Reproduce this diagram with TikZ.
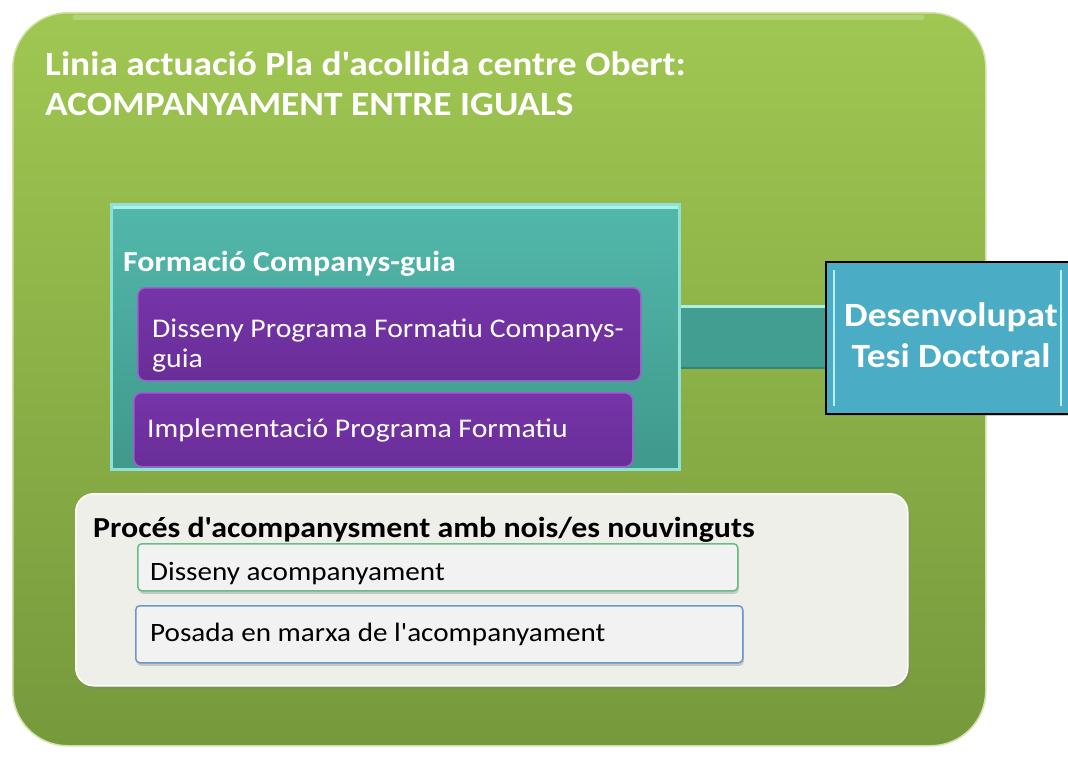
\documentclass[tikz,border=0pt]{standalone}
\usepackage{fontspec}
\setmainfont{Carlito}[Ligatures=TeXOff, FakeStretch=1.1]
\usetikzlibrary{shadows,calc}
\definecolor{gtop}{HTML}{A0C752}
\definecolor{gbot}{HTML}{76993C}
\definecolor{ttop}{HTML}{52B8AB}
\definecolor{tbot}{HTML}{3F998C}
\definecolor{thl}{HTML}{A8F2EA}
\definecolor{ptop}{HTML}{7634A8}
\definecolor{pbot}{HTML}{692E98}
\definecolor{phl}{HTML}{B070E0}
\definecolor{dcol}{HTML}{4BACC6}
\definecolor{dhl}{HTML}{B8F2F8}
\definecolor{pcol}{HTML}{EEEFE9}
\definecolor{bgreen}{HTML}{66BE86}
\definecolor{bblue}{HTML}{6A98C8}
\tikzset{
  outerbox/.style={rounded corners=55, top color=gtop, bottom color=gbot, draw=gtop!50!white, line width=1.5, inner sep=0},
  tealbox/.style={top color=ttop, bottom color=tbot, draw=thl!70!ttop, line width=2.5, inner sep=0},
  purplebox/.style={rounded corners=8, top color=ptop, bottom color=pbot, draw=phl!70!ptop, line width=1.5, inner sep=0},
  desbox/.style={fill=dcol, draw=black, line width=2.2, inner sep=0, drop shadow={opacity=0.4, shadow xshift=2pt, shadow yshift=-2pt}},
  procbox/.style={rounded corners=18, fill=pcol, draw=white, line width=1.5, inner sep=0, drop shadow={opacity=0.35, shadow xshift=2pt, shadow yshift=-3pt}},
  whitebox/.style={rounded corners=4, fill=white!95!black, line width=1.5, inner sep=0, drop shadow={opacity=0.35, shadow xshift=1pt, shadow yshift=-3pt}},
  wtxt/.style={text=white, inner sep=0, anchor=base west},
  btxt/.style={text=black, inner sep=0, anchor=base west},
  bar/.style={line width=64, draw=tbot!85!ttop},
}
\begin{document}
\begin{tikzpicture}[x=1pt,y=-1pt]
\useasboundingbox (0,0) rectangle (1068,756);
% outer container
\node[outerbox, minimum width=973, minimum height=733, anchor=north west] (outer) at (12,12) {};
\draw[white, opacity=0.22, line width=5, line cap=round] (75,17) -- (922,17);
\node[wtxt, font=\fontsize{34}{40}\bfseries\selectfont] (t1) at (45,75) {Linia actuació Pla d'acollida centre Obert:};
\node[wtxt, font=\fontsize{34}{40}\bfseries\selectfont] (t2) at (45,115) {ACOMPANYAMENT ENTRE IGUALS};
% desenvolupat box
\node[desbox, minimum width=243, minimum height=152, anchor=north west] (des) at (825,261) {};
\draw[dhl, line width=2.5] ($(des.north west)+(9,9)$) -- ($(des.south west)+(9,-9)$);
\draw[dhl, line width=2.5] ($(des.north east)+(-9,9)$) -- ($(des.south east)+(-9,-9)$);
\node[text=white, font=\fontsize{34}{41}\bfseries\selectfont, align=center, inner sep=0] (dtxt) at (951,335) {Desenvolupat\\Tesi Doctoral};
% formacio box
\node[tealbox, minimum width=568, minimum height=265, anchor=north west] (form) at (110,203) {};
\draw[thl, line width=3] ($(form.north west)+(3,4)$) -- ($(form.north east)+(-3,4)$);
% connector bar
\draw[bar] (form.east |- 0,337) -- (des.west |- 0,337);
\draw[thl, line width=3] (form.east |- 0,306) -- (des.west |- 0,306);
\draw[tbot!70!black, opacity=0.5, line width=2] (form.east |- 0,368) -- (des.west |- 0,368);
\node[wtxt, font=\fontsize{29}{34}\bfseries\selectfont] (ftitle) at (123,271) {Formació Companys-guia};
% purple boxes
\node[purplebox, minimum width=503, minimum height=93, anchor=north west] (p1) at (137,287) {};
\node[wtxt, font=\fontsize{27}{31}\selectfont] (p1a) at (152,337) {Disseny Programa Formatiu Companys-};
\node[wtxt, font=\fontsize{27}{31}\selectfont] (p1b) at (152,367) {guia};
\node[purplebox, minimum width=499, minimum height=74, anchor=north west] (p2) at (133,392) {};
\node[wtxt, font=\fontsize{27}{31}\selectfont] (p2a) at (147,437) {Implementació Programa Formatiu};
% proces box
\node[procbox, minimum width=832, minimum height=192, anchor=north west] (proc) at (75,493) {};
\node[btxt, font=\fontsize{29}{34}\bfseries\selectfont] (ptitle) at (93,537) {Procés d'acompanysment amb nois/es nouvinguts};
\node[whitebox, draw=bgreen, minimum width=600, minimum height=47, anchor=north west] (w1) at (137,543) {};
\node[btxt, font=\fontsize{26.5}{30}\selectfont] (w1t) at (150,580) {Disseny acompanyament};
\node[whitebox, draw=bblue, minimum width=607, minimum height=57, anchor=north west] (w2) at (135,605) {};
\node[btxt, font=\fontsize{26.5}{30}\selectfont] (w2t) at (150,641) {Posada en marxa de l'acompanyament};
\end{tikzpicture}
\end{document}
